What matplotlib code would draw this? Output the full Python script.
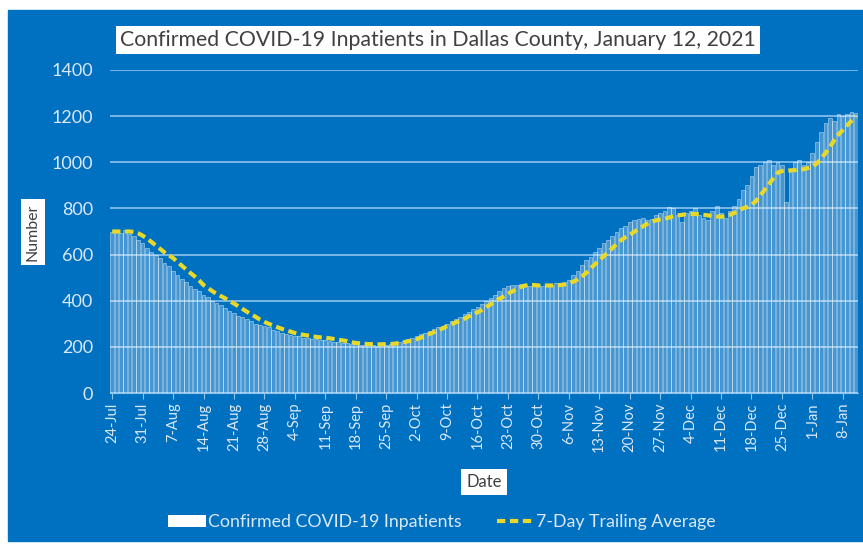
"""
Confirmed COVID-19 inpatients in Dallas County, daily bars + 7-day trailing average.
"""

import numpy as np
import pandas as pd
import matplotlib
matplotlib.use("Agg")
import matplotlib.pyplot as plt
import matplotlib.patches as patches
from matplotlib.lines import Line2D

BG      = "#0070c0"
TXT     = "#dbe9f7"
GRID    = "#8cc4ee"
AVG_COL = "#e8d82a"

# ── data ────────────────────────────────────────────────────────────────────
dates = pd.date_range("2020-07-24", "2021-01-11", freq="D")

inpatients = [
    700, 700, 695, 705, 690, 680, 665,      # 24-Jul
    650, 630, 610, 600, 585, 565, 550,      # 31-Jul
    530, 510, 495, 480, 465, 450, 440,      # 7-Aug
    425, 415, 400, 390, 380, 370, 355,      # 14-Aug
    345, 335, 330, 320, 310, 300, 295,      # 21-Aug
    290, 285, 275, 268, 262, 255, 250,      # 28-Aug
    248, 245, 240, 238, 236, 232, 230,      # 4-Sep
    228, 225, 222, 220, 218, 215, 213,      # 11-Sep
    212, 210, 208, 210, 207, 205, 208,      # 18-Sep
    210, 212, 215, 220, 225, 232, 240,      # 25-Sep
    248, 255, 262, 270, 278, 285, 292,      # 2-Oct
    300, 310, 320, 330, 342, 352, 362,      # 9-Oct
    372, 385, 398, 410, 425, 440, 455,      # 16-Oct
    462, 470, 468, 472, 470, 465, 468,      # 23-Oct
    470, 465, 462, 470, 475, 472, 480,      # 30-Oct
    490, 510, 530, 555, 575, 590, 610,      # 6-Nov
    630, 650, 665, 680, 700, 715, 725,      # 13-Nov
    740, 750, 755, 760, 748, 755, 770,      # 20-Nov
    780, 790, 805, 800, 770, 740, 780,      # 27-Nov
    790, 800, 770, 760, 750, 790, 810,      # 4-Dec
    780, 760, 790, 810, 840, 880, 900,      # 11-Dec
    940, 980, 990, 1000, 1010, 990, 1000,   # 18-Dec
    990, 830, 960, 1000, 1010, 990, 1000,   # 25-Dec
    1040, 1090, 1130, 1170, 1190, 1180, 1210,  # 1-Jan
    1200, 1210, 1220, 1215,                 # 8-Jan
]

trailing_avg = [
    700, 700, 700, 700, 700, 698, 692,
    682, 670, 655, 640, 625, 610, 597,
    585, 568, 552, 536, 520, 505, 488,
    468, 455, 442, 430, 420, 410, 398,
    388, 376, 364, 352, 340, 330, 318,
    308, 300, 292, 285, 278, 272, 266,
    260, 256, 252, 249, 246, 243, 241,
    240, 237, 234, 231, 228, 225, 220,
    217, 215, 213, 212, 212, 211, 211,
    212, 212, 214, 217, 220, 224, 228,
    233, 240, 248, 256, 264, 272, 280,
    290, 298, 306, 314, 322, 332, 340,
    350, 360, 372, 384, 396, 408, 418,
    430, 440, 450, 460, 466, 468, 468,
    466, 465, 466, 466, 467, 468, 470,
    475, 482, 492, 505, 520, 540, 558,
    575, 592, 610, 628, 645, 662, 675,
    685, 698, 710, 722, 733, 742, 748,
    752, 755, 760, 766, 770, 772, 775,
    776, 776, 774, 772, 770, 767, 765,
    764, 766, 772, 780, 790, 800, 806,
    815, 832, 855, 880, 905, 930, 955,
    962, 964, 965, 966, 968, 970, 975,
    982, 995, 1015, 1040, 1065, 1095, 1120,
    1140, 1160, 1180, 1198,
]

tick_labels = [d.strftime("%-d-%b") for d in dates[::7]]
y_ticks = [0, 200, 400, 600, 800, 1000, 1200, 1400]

plt.rcParams["font.family"] = ["Lato", "DejaVu Sans"]

fig = plt.figure(figsize=(8.63, 5.44), dpi=100)
fig.patch.set_facecolor("white")
# blue panel (the screenshot has a thin white strip top/left)
fig.add_artist(patches.Rectangle((8 / 863, 3 / 544), 855 / 863, 531 / 544,
                                 transform=fig.transFigure, color=BG, zorder=0))

ax = fig.add_axes([110 / 863, 151 / 544, 748 / 863, 323 / 544])
ax.patch.set_alpha(0)

x = np.arange(len(dates))
ax.bar(x, inpatients, width=0.85, facecolor=(1, 1, 1, 0.28),
       edgecolor=(1, 1, 1, 0.55), lw=0.5, zorder=2)
ax.plot(x, trailing_avg, color=AVG_COL, lw=3, dashes=(2, 1.1), zorder=3)

ax.set_xlim(-0.5, len(dates) - 0.5)
ax.set_ylim(0, 1400)
ax.set_yticks(y_ticks)
ax.set_yticklabels([str(v) for v in y_ticks], color=TXT, fontsize=13)
ax.yaxis.grid(True, color=GRID, lw=1.2, zorder=1)
ax.set_axisbelow(True)
ax.tick_params(axis="y", length=0, pad=12)

ax.set_xticks(x[::7])
ax.set_xticklabels(tick_labels, rotation=90, color=TXT, fontsize=10.5)
ax.tick_params(axis="x", length=4, color=GRID, pad=3)
for s in ax.spines.values():
    s.set_visible(False)
ax.spines["bottom"].set_visible(True)
ax.spines["bottom"].set_color(GRID)

fig.text(438 / 863, 1 - 40 / 544,
         "Confirmed COVID-19 Inpatients in Dallas County, January 12, 2021",
         ha="center", va="center", fontsize=15.3, color="#404040",
         bbox=dict(boxstyle="square,pad=0.2", fc="white", ec="none"))
box = dict(boxstyle="square,pad=0.3", fc="white", ec="none")
fig.text(33 / 863, 1 - 232 / 544, "Number", rotation=90, ha="center",
         va="center", fontsize=11.5, color="#404040", bbox=box)
fig.text(484 / 863, 1 - 482 / 544, "Date", ha="center", va="center",
         fontsize=12, color="#404040", bbox=box)

handles = [patches.Patch(facecolor="white", edgecolor="none"),
           Line2D([], [], color=AVG_COL, lw=3, dashes=(2, 1.1))]
leg = fig.legend(handles, ["Confirmed COVID-19 Inpatients", "7-Day Trailing Average"],
                 loc="center", bbox_to_anchor=(442 / 863, 1 - 522 / 544),
                 ncol=2, frameon=False, fontsize=12.8, labelcolor=TXT,
                 handlelength=2.1, columnspacing=2.0, handletextpad=0.1)

fig.savefig("out.png", dpi=100)
